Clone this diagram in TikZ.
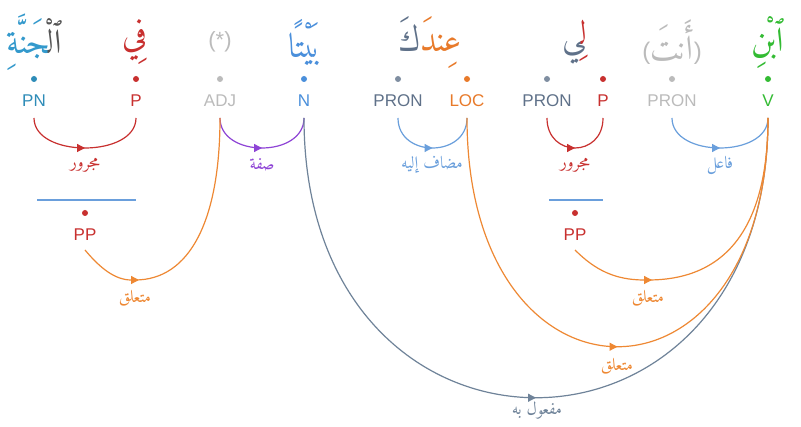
\documentclass[tikz,border=0pt]{standalone}
\usepackage{fontspec}
\setmainfont{Liberation Sans}
\IfFontExistsTF{Amiri-Regular.ttf}
  {\newfontfamily\arfont[Script=Arabic]{Amiri-Regular.ttf}}
  {\newfontfamily\arfont[Script=Arabic]{DejaVu Sans}}
\TeXXeTstate=1
\usetikzlibrary{decorations.markings,arrows.meta}
\definecolor{cPN}{HTML}{2E8CB8}
\definecolor{cP}{HTML}{C8302F}
\definecolor{cGrey}{HTML}{BBBBBB}
\definecolor{cN}{HTML}{4A8FDB}
\definecolor{cPRON}{HTML}{5F7189}
\definecolor{cLOC}{HTML}{E87A2A}
\definecolor{cV}{HTML}{33BB33}
\definecolor{cBlue}{HTML}{6A9FDC}
\definecolor{cPurple}{HTML}{8E44D6}
\definecolor{cSlate}{HTML}{6F8399}
\definecolor{cOrange}{HTML}{EE8833}
\tikzset{
  dotn/.style={circle,fill,inner sep=0pt,minimum size=6pt},
  tag/.style={font=\fontsize{17}{20}\selectfont,inner sep=0pt},
  word/.style={font=\arfont\fontsize{34}{38}\selectfont,inner sep=0pt},
  rlab/.style={font=\arfont\fontsize{17}{20}\selectfont,inner sep=0pt},
  rel/.style={line width=1.2pt,postaction={decorate},
    decoration={markings,mark=at position 0.5 with {\arrow{Triangle[length=8pt,width=8pt]}}}},
  endarrow/.style={line width=1.2pt,-{Triangle[length=8pt,width=8pt]},shorten >=-4pt},
  plain/.style={line width=1.2pt},
}
\begin{document}
\begin{tikzpicture}[x=1pt,y=-1pt]
\fill[white] (0,0) rectangle (801,427);
\useasboundingbox (0,0) rectangle (801,427);
% words
\node[word] (w1) at (34,42) {\beginR{\addfontfeatures{Color=555555}ٱلْ^^^^200d}{\addfontfeatures{Color=3399CC}^^^^200dجَنَّةِ}\endR};
\node[word,text=cP] (w2) at (135,42) {فِي};
\node[font=\fontsize{22}{26}\selectfont,text=cGrey,inner sep=0pt] (w3) at (220,42) {(*)};
\node[word,text=cN] (w4) at (305,42) {بَيْتًا};
\node[word] (w5) at (430,42) {\beginR{\addfontfeatures{Color=E87A2A}عِندَ}{\addfontfeatures{Color=5F7189}كَ}\endR};
\node[word] (w6) at (575,42) {\beginR{\addfontfeatures{Color=C8302F}لِ^^^^200d}{\addfontfeatures{Color=5F7189}^^^^200dي}\endR};
\node[word,text=cGrey] (w7) at (672,42) {{\normalfont\fontsize{24}{28}\selectfont(}\hbox{أَنتَ}{\normalfont\fontsize{24}{28}\selectfont)}};
\node[word,text=cV] (w8) at (768,42) {ٱبْنِ};
% dots
\node[dotn,cPN] (pn) at (34,79) {};
\node[dotn,cP] (p1) at (136,79) {};
\node[dotn,cGrey] (adj) at (220,79) {};
\node[dotn,cN] (n) at (304,79) {};
\node[dotn,cPRON!80] (pron1) at (398,79) {};
\node[dotn,cLOC] (loc) at (467,79) {};
\node[dotn,cPRON!80] (pron2) at (547,79) {};
\node[dotn,cP] (p2) at (603,79) {};
\node[dotn,cGrey] (pron3) at (672,79) {};
\node[dotn,cV] (v) at (768,79) {};
% tags
\node[tag,text=cPN] (tpn) at (34,101) {PN};
\node[tag,text=cP] (tp1) at (136,101) {P};
\node[tag,text=cGrey] (tadj) at (220,101) {ADJ};
\node[tag,text=cN] (tn) at (304,101) {N};
\node[tag,text=cPRON] (tpron1) at (398,101) {PRON};
\node[tag,text=cLOC] (tloc) at (467,101) {LOC};
\node[tag,text=cPRON] (tpron2) at (547,101) {PRON};
\node[tag,text=cP] (tp2) at (603,101) {P};
\node[tag,text=cGrey] (tpron3) at (672,101) {PRON};
\node[tag,text=cV] (tv) at (768,101) {V};
% arc endpoints
\coordinate (pn-s) at (34,118);
\coordinate (p1-s) at (136,118);
\coordinate (adj-s) at (220,118);
\coordinate (n-s) at (304,118);
\coordinate (pron1-s) at (398,118);
\coordinate (loc-s) at (467,118);
\coordinate (pron2-s) at (547,118);
\coordinate (p2-s) at (603,118);
\coordinate (pron3-s) at (672,118);
\coordinate (v-s) at (768,118);
% phrase bars
\draw[cBlue,plain] (37,200) -- (136,200);
\draw[cBlue,plain] (549,200) -- (603,200);
\node[dotn,cP] (ppd1) at (85,213) {};
\node[dotn,cP] (ppd2) at (575,213) {};
\node[tag,text=cP] (pp1) at (85,235) {PP};
\node[tag,text=cP] (pp2) at (575,235) {PP};
\coordinate (pp1-s) at (85,250);
\coordinate (pp2-s) at (575,250);
\coordinate (b1) at (135,280);
\coordinate (b2) at (648,280);
% short arcs
\draw[rel,cP] (pn-s) .. controls +(0,40) and +(0,40) .. (p1-s);
\draw[rel,cPurple] (adj-s) .. controls +(0,40) and +(0,40) .. (n-s);
\draw[rel,cBlue] (pron1-s) .. controls +(0,40) and +(0,40) .. (loc-s);
\draw[rel,cP] (pron2-s) .. controls +(0,40) and +(0,40) .. (p2-s);
\draw[rel,cBlue] (pron3-s) .. controls +(0,40) and +(0,40) .. (v-s);
% long arcs
\draw[rel,cSlate] (n-s) .. controls +(0,373) and +(0,373) .. (v-s);
\draw[rel,cOrange] (loc-s) .. controls +(0,305) and +(0,305) .. (v-s);
% PP arcs
\draw[endarrow,cOrange] (pp1-s) .. controls (100,268) and (115,280) .. (b1);
\draw[plain,cOrange] (b1) .. controls (190,280) and (220,220) .. (adj-s);
\draw[endarrow,cOrange] (pp2-s) .. controls (595,270) and (615,280) .. (b2);
\draw[plain,cOrange] (b2) .. controls (735,280) and (768,215) .. (v-s);
% relation labels
\node[rlab,text=cP] (l1) at (85,165) {مجرور};
\node[rlab,text=cPurple] (l2) at (262,165) {صفة};
\node[rlab,text=cBlue] (l3) at (432,165) {\beginR مضاف إليه\endR};
\node[rlab,text=cP] (l4) at (575,165) {مجرور};
\node[rlab,text=cBlue] (l5) at (720,165) {فاعل};
\node[rlab,text=cOrange] (l6) at (135,298) {متعلق};
\node[rlab,text=cOrange] (l7) at (648,298) {متعلق};
\node[rlab,text=cOrange] (l8) at (617,366) {متعلق};
\node[rlab,text=cSlate] (l9) at (537,411) {\beginR مفعول به\endR};
\end{tikzpicture}
\end{document}
